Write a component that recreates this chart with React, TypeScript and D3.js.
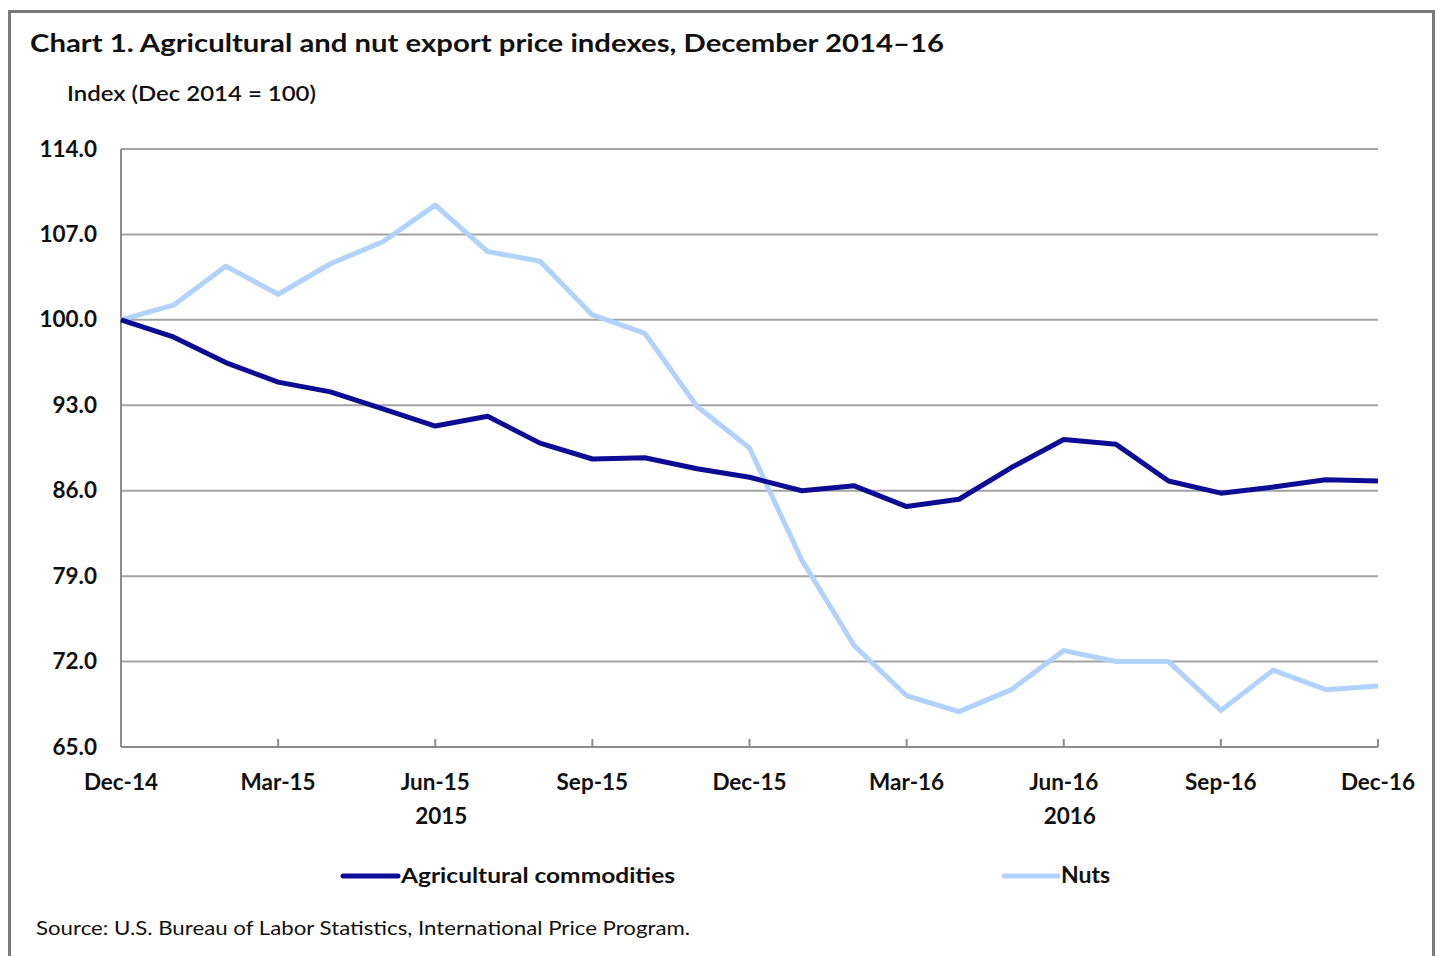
import React from 'react';
import * as d3 from 'd3';

// monthly data, Dec 2014 - Dec 2016
const months = [
  'Dec-14', 'Jan-15', 'Feb-15', 'Mar-15', 'Apr-15', 'May-15', 'Jun-15', 'Jul-15', 'Aug-15',
  'Sep-15', 'Oct-15', 'Nov-15', 'Dec-15', 'Jan-16', 'Feb-16', 'Mar-16', 'Apr-16', 'May-16',
  'Jun-16', 'Jul-16', 'Aug-16', 'Sep-16', 'Oct-16', 'Nov-16', 'Dec-16',
];
const agricultural = [
  100.0, 98.6, 96.5, 94.9, 94.1, 92.7, 91.3, 92.1, 89.9, 88.6, 88.7, 87.8, 87.1,
  86.0, 86.4, 84.7, 85.3, 87.9, 90.2, 89.8, 86.8, 85.8, 86.3, 86.9, 86.8,
];
const nuts = [
  100.0, 101.2, 104.4, 102.1, 104.6, 106.4, 109.4, 105.6, 104.8, 100.4, 98.9, 92.9, 89.5,
  80.3, 73.3, 69.2, 67.9, 69.7, 72.9, 72.0, 72.0, 68.0, 71.3, 69.7, 70.0,
];
const yTicks = [65, 72, 79, 86, 93, 100, 107, 114];
const xTickLabels = ['Dec-14', 'Mar-15', 'Jun-15', 'Sep-15', 'Dec-15', 'Mar-16', 'Jun-16', 'Sep-16', 'Dec-16'];
const yearLabels = [
  { year: '2015', at: 'Jun-15' },
  { year: '2016', at: 'Jun-16' },
];

const W = 1438;
const H = 956;
const left = 121, right = 1378, top = 149, bottom = 747;
const FONT = 'Lato, "Open Sans", sans-serif';
const AGRI = '#0c0c94';
const NUTS = '#b0d2fd';

export default function App() {
  const x = d3.scalePoint<string>().domain(months).range([left, right]);
  const y = d3.scaleLinear().domain([65, 114]).range([bottom, top]);

  const line = d3
    .line<number>()
    .x((d, i) => x(months[i]) as number)
    .y(d => y(d));

  return (
    <svg width={W} height={H} style={{ position: 'absolute', left: 0, top: 0, background: '#fff' }}>
      <rect x={9.5} y={11.5} width={1424} height={980} fill="#fff" stroke="#7a7a7a" strokeWidth={3} />

      <text x={30} y={52} fontFamily={FONT} fontWeight="bold" fontSize={25} fill="#111"
        textLength={914} lengthAdjust="spacingAndGlyphs">
        Chart 1. Agricultural and nut export price indexes, December 2014–16
      </text>
      <text x={67} y={101} fontFamily={FONT} fontSize={21} fill="#111" fontWeight={600}
        textLength={249} lengthAdjust="spacingAndGlyphs">
        Index (Dec 2014 = 100)
      </text>

      {/* gridlines + y labels */}
      {yTicks.map(t => (
        <g key={t}>
          {t !== 65 && (
            <line x1={left} x2={right} y1={y(t)} y2={y(t)} stroke="#a3a3a3" strokeWidth={2} />
          )}
          <text x={97} y={y(t) + 7.5} textAnchor="end" fontFamily={FONT} fontWeight="bold"
            fontSize={22.5} fill="#111">
            {t.toFixed(1)}
          </text>
        </g>
      ))}

      {/* axes */}
      <line x1={left} x2={left} y1={top} y2={bottom} stroke="#8c8c8c" strokeWidth={2} />
      <line x1={left} x2={right} y1={bottom} y2={bottom} stroke="#8c8c8c" strokeWidth={2} />
      {xTickLabels.map(m => (
        <g key={m}>
          <line x1={x(m)} x2={x(m)} y1={bottom} y2={bottom - 8} stroke="#8c8c8c" strokeWidth={2} />
          <text x={x(m)} y={790} textAnchor="middle" fontFamily={FONT} fontWeight="bold"
            fontSize={22.5} fill="#111">
            {m}
          </text>
        </g>
      ))}
      {yearLabels.map(d => (
        <text key={d.year} x={(x(d.at) as number) + 6} y={824} textAnchor="middle" fontFamily={FONT}
          fontWeight="bold" fontSize={22.5} fill="#111">
          {d.year}
        </text>
      ))}

      {/* series */}
      <path d={line(nuts) || ''} fill="none" stroke={NUTS} strokeWidth={5} strokeLinejoin="round" />
      <path d={line(agricultural) || ''} fill="none" stroke={AGRI} strokeWidth={5} strokeLinejoin="round" />

      {/* legend */}
      <line x1={343} x2={398} y1={876} y2={876} stroke={AGRI} strokeWidth={5} strokeLinecap="round" />
      <text x={401} y={883} fontFamily={FONT} fontWeight="bold" fontSize={21} fill="#111"
        textLength={274} lengthAdjust="spacingAndGlyphs">
        Agricultural commodities
      </text>
      <line x1={1004} x2={1058} y1={876} y2={876} stroke={NUTS} strokeWidth={5} strokeLinecap="round" />
      <text x={1061} y={883} fontFamily={FONT} fontWeight="bold" fontSize={23} fill="#111">
        Nuts
      </text>

      <text x={36} y={935} fontFamily={FONT} fontSize={19} fill="#111"
        textLength={654} lengthAdjust="spacingAndGlyphs">
        Source: U.S. Bureau of Labor Statistics, International Price Program.
      </text>
    </svg>
  );
}
